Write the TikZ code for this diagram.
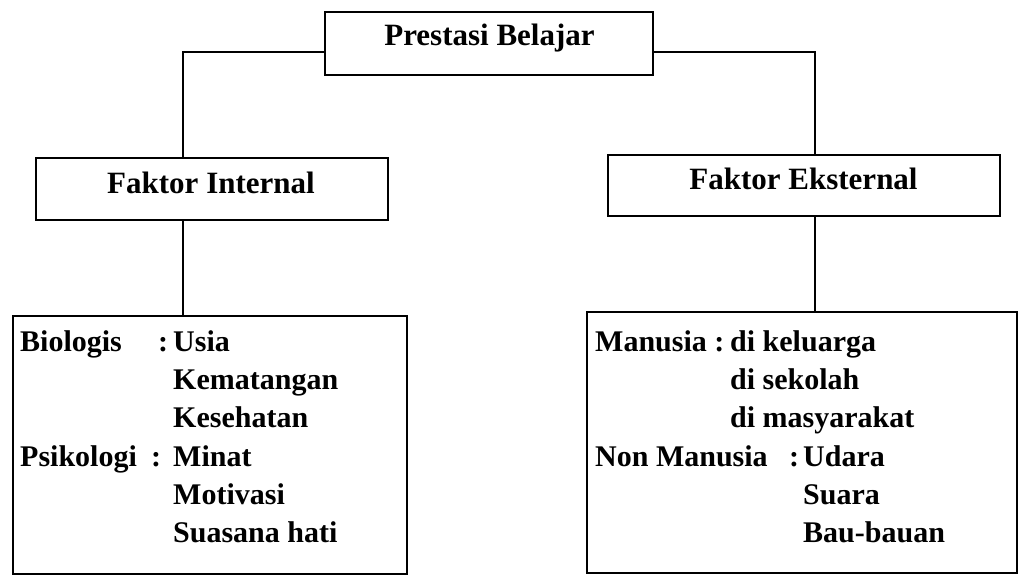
\documentclass[tikz,border=0pt]{standalone}
\usepackage{fontspec}
\setmainfont{Liberation Serif}
\begin{document}
\begin{tikzpicture}[x=1pt,y=-1pt,
  box/.style={draw, line width=2.4pt, inner sep=0pt},
  lbl/.style={font=\bfseries\fontsize{30}{38.4}\selectfont, inner sep=0pt, anchor=base west},
  ttl/.style={font=\bfseries\fontsize{31}{38.4}\selectfont, inner sep=0pt, anchor=base},
  conn/.style={line width=1.8pt}]
\useasboundingbox (0,0) rectangle (1019,582);
% boxes
\node[box, minimum width=328pt, minimum height=63pt] (pb) at (489,43.5) {};
\node[ttl] (pbt) at (489.5,45) {Prestasi Belajar};
\node[box, minimum width=352pt, minimum height=62pt] (fi) at (212,189) {};
\node[ttl] (fit) at (211,193) {Faktor Internal};
\node[box, minimum width=392pt, minimum height=61pt] (fe) at (804,185.5) {};
\node[ttl] (fet) at (803.5,189) {Faktor Eksternal};
\node[box, minimum width=394pt, minimum height=258pt] (bi) at (210,445) {};
\node[box, minimum width=430pt, minimum height=261pt] (be) at (802,442.5) {};
% connectors
\draw[conn] ([yshift=-8.5pt]pb.west) -| ([xshift=-29pt]fi.north);
\draw[conn] ([yshift=-8.5pt]pb.east) -| ([xshift=11pt]fe.north);
\draw[conn] ([xshift=-29pt]fi.south) -- ([xshift=-29pt]fi.south |- bi.north);
\draw[conn] ([xshift=11pt]fe.south) -- ([xshift=11pt]fe.south |- be.north);
% internal factors
\node[lbl] (b1) at (20,351) {Biologis};
\node[lbl] (b1c) at (158,351) {:};
\node[lbl] (b1i) at (173,351) {\begin{tabular}[t]{@{}l@{}}Usia\\Kematangan\\Kesehatan\end{tabular}};
\node[lbl] (p1) at (20,466) {Psikologi};
\node[lbl] (p1c) at (151,466) {:};
\node[lbl] (p1i) at (173,466) {\begin{tabular}[t]{@{}l@{}}Minat\\Motivasi\\Suasana hati\end{tabular}};
% external factors
\node[lbl] (m1) at (595,351) {Manusia :};
\node[lbl] (m1i) at (730,351) {\begin{tabular}[t]{@{}l@{}}di keluarga\\di sekolah\\di masyarakat\end{tabular}};
\node[lbl] (n1) at (595,466) {Non Manusia};
\node[lbl] (n1c) at (789,466) {:};
\node[lbl] (n1i) at (803,466) {\begin{tabular}[t]{@{}l@{}}Udara\\Suara\\Bau-bauan\end{tabular}};
\end{tikzpicture}
\end{document}
